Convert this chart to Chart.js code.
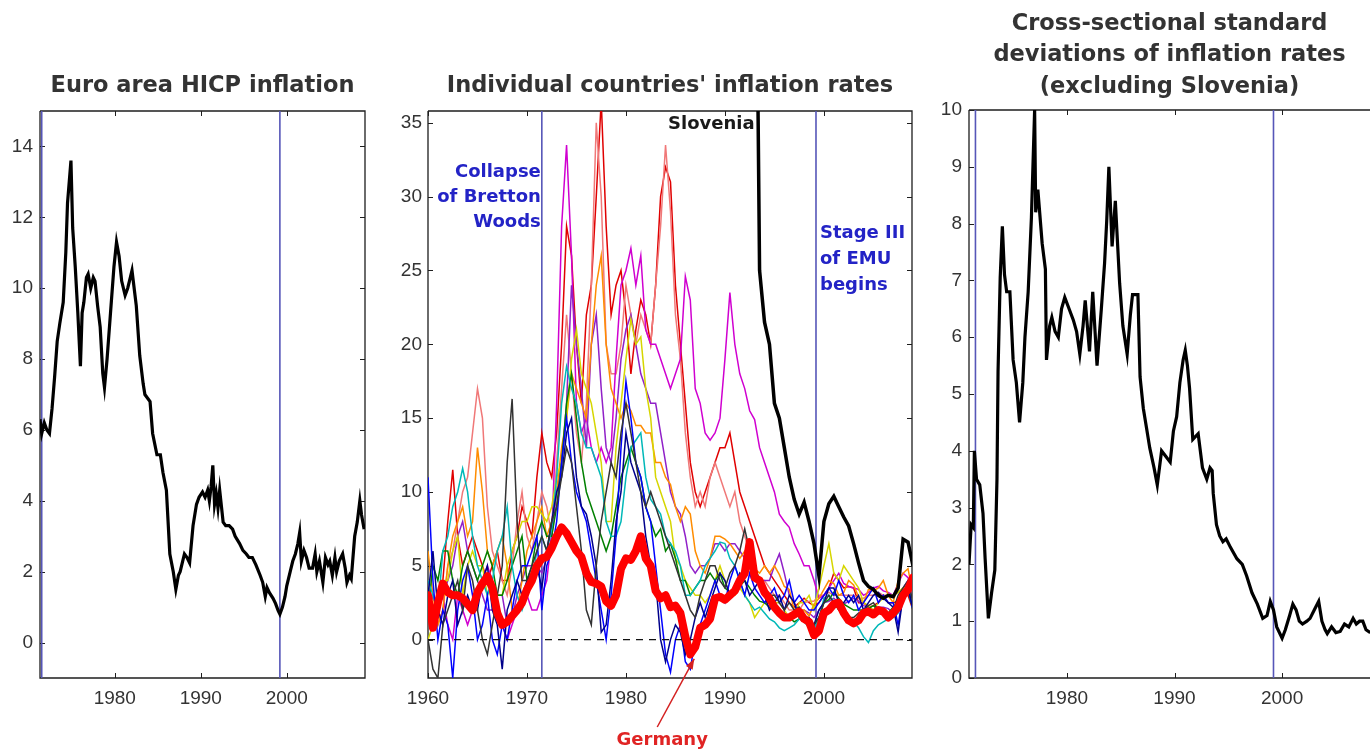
<!DOCTYPE html>
<html>
<head>
<meta charset="utf-8">
<script src="https://cdn.jsdelivr.net/npm/chart.js@4.4.1/dist/chart.umd.min.js"></script>
<style>
  html, body { margin: 0; padding: 0; background: #fff; overflow: hidden; width: 1370px; height: 754px; }
  canvas { position: absolute; top: 0; }
</style>
</head>
<body>
<canvas id="hicp" width="390" height="754" style="left:0px"></canvas>
<canvas id="countries" width="550" height="754" style="left:380px"></canvas>
<canvas id="dispersion" width="450" height="754" style="left:920px"></canvas>
<script>
// ---------- Event dates ----------
const BRETTON_WOODS = 1971.5;
const EMU_STAGE_THREE = 1999.2;

// ---------- Euro area HICP inflation (%) ----------
const HICP_YEARS = [
  1971.3, 1971.5, 1971.8, 1972.1, 1972.4, 1972.7, 1973.0, 1973.3, 1973.6, 1974.0,
  1974.3, 1974.5, 1974.7, 1974.9, 1975.1, 1975.4, 1975.7, 1976.0, 1976.2, 1976.4,
  1976.7, 1976.9, 1977.2, 1977.5, 1977.7, 1978.0, 1978.3, 1978.6, 1978.8, 1979.1,
  1979.5, 1979.9, 1980.2, 1980.5, 1980.8, 1981.2, 1981.5, 1981.8, 1982.0, 1982.3,
  1982.5, 1982.9, 1983.3, 1983.5, 1984.1, 1984.4, 1984.9, 1985.3, 1985.6, 1986.0,
  1986.2, 1986.4, 1986.8, 1987.1, 1987.4, 1987.6, 1988.1, 1988.4, 1988.7, 1989.1,
  1989.5, 1989.8, 1990.2, 1990.5, 1990.8, 1991.0, 1991.2, 1991.4, 1991.6, 1991.8,
  1992.0, 1992.2, 1992.6, 1992.9, 1993.3, 1993.7, 1994.0, 1994.5, 1994.9, 1995.3,
  1995.6, 1996.0, 1996.4, 1996.9, 1997.2, 1997.5, 1997.7, 1998.0, 1998.4, 1998.7,
  1999.0, 1999.2, 1999.5, 1999.8, 2000.0, 2000.4, 2000.7, 2001.0, 2001.3, 2001.5,
  2001.7, 2002.0, 2002.3, 2002.6, 2003.0, 2003.3, 2003.5, 2003.8, 2004.2, 2004.5,
  2004.8, 2005.0, 2005.3, 2005.6, 2005.8, 2006.1, 2006.5, 2006.8, 2007.0, 2007.3,
  2007.5, 2007.9, 2008.2, 2008.5, 2008.7, 2009.0
];
const HICP_VALUES = [
  6.3, 5.9, 6.2, 6.0, 5.9, 6.6, 7.5, 8.5, 9.0, 9.6,
  11.0, 12.4, 13.0, 13.6, 11.7, 10.6, 9.3, 7.8, 9.3, 9.6,
  10.3, 10.4, 10.0, 10.3, 10.2, 9.5, 8.9, 7.6, 7.2, 8.0,
  9.3, 10.6, 11.3, 10.9, 10.2, 9.8, 10.0, 10.3, 10.5, 9.9,
  9.5, 8.1, 7.3, 7.0, 6.8, 5.9, 5.3, 5.3, 4.8, 4.3,
  3.4, 2.5, 2.0, 1.5, 1.9, 2.0, 2.5, 2.4, 2.25, 3.3,
  3.9, 4.1, 4.25, 4.1, 4.3, 4.0, 4.4, 5.0, 3.9, 4.2,
  3.8, 4.3, 3.4, 3.3, 3.3, 3.2, 3.0, 2.8, 2.6, 2.5,
  2.4, 2.4, 2.2, 1.9, 1.7, 1.3, 1.55, 1.4, 1.25, 1.1,
  0.9, 0.8, 1.0, 1.3, 1.6, 2.0, 2.3, 2.5, 2.8, 3.1,
  2.3, 2.6, 2.4, 2.1, 2.1, 2.5, 2.0, 2.3, 1.7, 2.4,
  2.2, 2.3, 1.9, 2.4, 2.0, 2.3, 2.5, 2.1, 1.7, 1.9,
  1.8, 3.0, 3.4, 4.0, 3.6, 3.2
];
const HICP_X_TICKS = [1980, 1990, 2000];
const HICP_Y_TICKS = [0, 2, 4, 6, 8, 10, 12, 14];

// ---------- Individual countries, half-yearly from 1960 (%) ----------
const COUNTRY_START = 1960;
const GERMANY = [
  3.0, 0.8, 2.5, 3.8, 3.2, 3.0, 3.0, 2.8, 2.4, 2.0, 3.2, 3.8, 4.3, 3.5, 1.8, 1.0, 1.2, 1.6, 2.0, 2.5,
  3.4, 4.0, 5.0, 5.5, 5.6, 6.2, 7.0, 7.6, 7.2, 6.6, 6.0, 5.6, 4.5, 3.9, 3.8, 3.6, 2.6, 2.3, 3.0, 4.8,
  5.5, 5.4, 6.0, 7.0, 5.5, 5.0, 3.3, 2.8, 3.0, 2.2, 2.3, 1.8, 0.2, -1.0, -0.5, 0.8, 1.0, 1.4, 2.8, 2.9,
  2.7, 3.0, 3.3, 4.0, 4.5, 6.6, 4.2, 4.0, 3.2, 2.8, 2.2, 1.8, 1.5, 1.5, 1.7, 1.9, 1.4, 1.2, 0.3, 0.6,
  1.8, 2.0, 2.4, 2.5, 1.8, 1.3, 1.1, 1.3, 1.8, 1.9, 1.7, 2.0, 1.9, 1.5, 1.8, 2.2, 3.0, 3.4,
  4.2
];
const SLOVENIA_START = 1993;
const SLOVENIA = [
  60, 25, 21.5, 20, 16, 15, 13, 11, 9.5, 8.5, 9.3, 8, 6.5, 4.3, 8, 9.2, 9.7, 9.0, 8.3, 7.7,
  6.5, 5.2, 4.0, 3.6, 3.4, 3.0, 2.8, 3.0, 2.9, 3.5, 6.8, 6.6, 5.0
];
const PORTUGAL = [
  2, 3, 2, 4, 8, 11.5, 7, 5, 6, 7, 6, 5, 4, 5, 6, 4, 4, 6, 7, 9,
  8, 7, 11, 14, 12, 11, 14, 20, 28, 26, 20, 16, 22, 24, 30, 36.5, 28, 22, 24, 25,
  22, 18, 21, 23, 22, 20, 24, 30, 32, 31, 24, 20, 16, 12, 10, 9, 10, 11, 12, 13,
  13, 14, 12, 10, 9, 8, 7, 6, 5, 4.5, 4, 3.5, 3, 2.5, 2.2, 2.5, 2.8, 2.5, 2.3, 2.5,
  3, 3.5, 4.5, 4, 3.5, 3.6, 3.5, 2.5, 2.5, 2.2, 2.3, 2.5, 3, 2.5, 2.5, 2.6, 3, 3,
  2
];
const SPAIN = [
  4, 2, 1, 2, 5, 6, 8, 10, 11, 14, 17, 15, 9, 6, 5, 4, 3, 5, 8, 10,
  7, 6, 8, 10, 9, 7, 12, 17, 22, 18, 14, 12, 16, 24, 35, 30, 20, 18, 18, 20,
  24, 22, 20, 22, 21, 20, 24, 28, 33.5, 29, 22, 19, 14, 11, 9, 10, 9, 11, 12, 11,
  10, 9, 10, 8, 7, 6, 5, 4, 4, 3.5, 3, 3, 2.5, 2, 2, 2, 2.5, 2.6, 2.6, 3,
  3, 3.2, 3, 3, 3, 3, 3, 2.8, 2.8, 3, 3, 3.2, 3, 3, 3, 3.2, 3.5, 3.6,
  3
];
const GREECE = [
  2, 1, 2, 3, 1, 0, 3, 2, 1, 2, 3, 4, 5, 4, 2, 1, 0, 1, 2, 3,
  3, 2, 2, 3, 4, 7, 16, 28, 33.5, 26, 16, 14, 15, 13, 12, 13, 12, 13, 19, 24,
  25, 26.5, 24, 26, 21, 20, 20, 19, 18, 17, 18, 19, 24.6, 23, 17, 16, 14, 13.5, 14, 15,
  19, 23.5, 20, 18, 17, 15.5, 14.9, 13, 12, 11, 10, 8.5, 8, 7.6, 6.5, 5.8, 5, 5, 4, 2.8,
  3, 3.5, 4, 4.5, 3.8, 3.6, 3.5, 3.4, 3, 3.2, 3.5, 3.6, 3.3, 3.2, 3, 3.8, 4.5, 4.2,
  3
];
const ITALY = [
  2, 3, 2, 3, 4, 5, 7, 8, 6, 5, 4, 3, 2, 2, 3, 3, 1, 1.5, 3, 4,
  5, 5, 5, 4.5, 5.5, 7, 10, 12, 16, 24, 20, 17, 13, 20, 22, 17, 13, 12, 15, 19,
  21, 22, 20, 18, 17, 16, 16, 14, 12, 10, 9, 8.5, 7, 5, 4.5, 5, 5, 5.5, 6.5, 6.5,
  6, 6.5, 6.5, 6, 5.5, 5, 4.5, 4, 4, 4, 5, 5.8, 4.5, 3, 2.5, 1.8, 2, 1.8, 1.5, 2,
  2.5, 2.6, 2.8, 2.5, 2.4, 2.6, 2.8, 2.6, 2.3, 2.2, 2, 2.2, 2.2, 2.1, 1.8, 2.6, 3.5, 4,
  3
];
const CYPRUS = [
  6, 3, 1, 2, 5, 7, 8, 9, 7, 8, 13, 10, 6, 5, 6, 7, 5, 2, 2, 4,
  6, 7, 8, 9, 7, 8, 10, 13, 15, 18, 17, 16, 15, 20, 24, 26, 20, 17, 16, 15,
  16, 15.5, 14.5, 14.5, 14, 14, 12, 12, 11, 10.5, 9, 8, 9, 8.5, 6, 5, 4.5, 5.5, 7, 7,
  6.8, 6.5, 6, 5.5, 6, 5.5, 4.8, 4.5, 5, 4.5, 5, 4.4, 3.6, 3.4, 2, 2, 2, 1.6, 2.4, 2.8,
  3.4, 4, 3.8, 3, 3.2, 4, 3.7, 2.9, 2.5, 3.4, 3.3, 3.5, 4, 3, 2.5, 4, 4.5, 4.8,
  3
];
const IRELAND = [
  0, 1, 3, 4, 4, 6, 7, 3, 5, 6, 5, 5, 3, 4, 3, 3, 5, 6, 7, 8,
  8, 9, 9, 8.5, 8, 9, 11, 12, 15, 19, 21, 18, 17, 16, 14, 12, 8, 8, 13, 16,
  19, 21.7, 20, 20.5, 17, 15, 11, 10, 9, 8, 5.5, 5, 4, 3.5, 3, 3, 2.5, 3, 4, 5,
  4, 3, 3, 3.5, 3, 2.5, 1.5, 2, 2.5, 2.5, 2.5, 2.5, 2, 1.5, 1.5, 2.5, 2.5, 3, 2, 3.5,
  5, 6.5, 4.5, 4, 5, 4.5, 4, 3.5, 2.5, 2.3, 2, 2.5, 2.8, 3, 3, 3.2, 3.5, 3.6,
  2
];
const NETHERLANDS = [
  2, 5, 4, 6, 6, 4, 3, 5, 6, 5, 4, 5, 6, 5, 3, 3, 4, 5, 6, 7,
  4, 5, 7, 8, 7, 7, 9, 12, 16, 18, 15, 12, 10, 9, 8, 7, 6, 7, 9, 11,
  12, 13, 12, 11, 9, 8, 7, 7.5, 6, 6.5, 5.5, 4, 4, 3, 3.5, 4, 4, 4.5, 4, 4.5,
  3.5, 3.2, 3.5, 3.6, 4, 3.5, 3, 2.6, 2.5, 2.2, 2.2, 2, 1.8, 1.5, 1.2, 1.4, 1.5, 1.3, 1, 1.5,
  2.5, 2.7, 3.2, 2.8, 2.4, 2.2, 2, 2, 2, 2.1, 2.3, 2, 2, 1.8, 2.2, 2.4, 3, 3.4,
  2
];
const FINLAND = [
  4, 3, 2, 6, 7, 9, 10, 11.6, 10, 7, 5, 4, 3, 4, 6, 7, 9, 5, 3, 2,
  3, 4, 6, 7, 6, 7.5, 11, 16, 18.5, 17, 16, 14, 13, 13, 12, 11, 8, 7, 7, 8,
  11, 13, 13.5, 14, 11, 9.5, 9, 8.5, 7, 6.5, 6, 5, 3, 3, 3.5, 4, 5, 5.5, 6, 6.6,
  6.5, 5.5, 5, 4, 3, 2.5, 2, 2.2, 1.8, 1.4, 1.2, 0.8, 0.6, 0.8, 1, 1.4, 1.2, 0.8, 0.8, 1.4,
  2.8, 3, 2.6, 2, 2, 1.6, 1.2, 0.8, 0.2, -0.2, 0.6, 1, 1.2, 1.4, 1.5, 1.8, 3, 3.8,
  2
];
const BELGIUM = [
  11, 4, 0, 2, 1, -2.6, 2, 4, 5, 3, 0, 1, 3, 0, -1, 1, 0, 2, 4, 5,
  5, 6, 7, 2, 5, 6, 8, 12, 15, 12, 10, 9, 8, 6, 4, 2, 0, 3, 7, 13,
  17.5, 15, 12, 11, 9, 8, 5, 2, -1, -2.2, 0, 1, -1.5, -2, 0, 1, 2, 3, 4, 3,
  2.5, 4, 5, 4, 3, 4.5, 3.5, 3, 2.5, 3, 3.5, 2.5, 3, 4, 2.5, 3, 2.5, 2, 2, 2.5,
  3, 3.5, 3, 4, 3, 2.5, 3, 2, 2.5, 3, 3.5, 2.5, 3, 2.5, 2.5, 1, 3, 3.5,
  2
];
const LUXEMBOURG = [
  3, 6, 2, 1, 3, 4, 1, 2, 3, 2, 2, 4, 5, 2, 1, -2, 2, 3, 4, 3,
  4, 4.5, 5, 3.5, 6, 8, 10, 11, 14, 15, 11, 9, 8.5, 7, 5, 0.5, 1, 4, 8, 10,
  14, 12, 11, 10, 7, 5, 4, 0, -1.5, 0, 1, 0.5, -1, 0, 1.5, 2.5, 1.5, 2.5, 3.5, 4.5,
  4, 3, 3.5, 4.5, 4, 3, 3.5, 4, 3, 2, 2.5, 3, 2, 3, 2.5, 1.5, 1.5, 1.5, 1, 2,
  2.5, 3.5, 3.5, 2.5, 2.5, 3, 2.5, 3, 2, 2.5, 3, 3.2, 2.8, 2.5, 2.2, 0.5, 3, 3.6,
  2
];
const AUSTRIA = [
  0, -2, -2.6, 1, 2, 3, 4, 2, 5, 4, 2, 0, -1, 1, 3, 5, 12, 16.3, 8, 4,
  4, 5, 6, 7, 6, 8, 9, 11, 13, 12, 9, 6, 2, 1, 5, 8, 10, 12, 11, 14,
  16, 14, 12, 10, 9, 10, 9, 8, 7, 6, 5, 4, 3, 2, 1.5, 3, 4, 5, 5, 4,
  3.5, 4.5, 5, 6, 7.5, 6, 5, 4, 3.5, 3, 3, 2.5, 2, 2.5, 2, 2.2, 1.5, 1.2, 1, 1.5,
  2.5, 3, 2.5, 2, 2, 1.5, 1.5, 1.8, 2, 2.3, 2.5, 2, 1.8, 1.5, 2, 3, 3.5, 4,
  2.5
];
const COUNTRY_X_TICKS = [1960, 1970, 1980, 1990, 2000];
const COUNTRY_Y_TICKS = [0, 5, 10, 15, 20, 25, 30, 35];

// ---------- Cross-sectional standard deviation (excluding Slovenia) ----------
const DISPERSION_YEARS = [
  1970.9, 1971.1, 1971.3, 1971.4, 1971.6, 1971.9, 1972.2, 1972.4, 1972.7, 1973.0,
  1973.3, 1973.5, 1973.6, 1973.8, 1974.0, 1974.2, 1974.4, 1974.7, 1975.0, 1975.3,
  1975.6, 1975.9, 1976.1, 1976.4, 1976.7, 1977.0, 1977.1, 1977.3, 1977.7, 1978.0,
  1978.1, 1978.4, 1978.6, 1978.9, 1979.2, 1979.5, 1979.8, 1980.2, 1980.6, 1980.9,
  1981.2, 1981.5, 1981.7, 1982.1, 1982.4, 1982.8, 1983.2, 1983.5, 1983.7, 1983.9,
  1984.2, 1984.5, 1984.9, 1985.2, 1985.6, 1985.9, 1986.1, 1986.6, 1986.8, 1987.1,
  1987.4, 1987.7, 1988.1, 1988.4, 1988.8, 1989.2, 1989.6, 1989.9, 1990.2, 1990.5,
  1990.8, 1991.0, 1991.2, 1991.4, 1991.7, 1992.2, 1992.6, 1993.0, 1993.3, 1993.5,
  1993.6, 1993.9, 1994.2, 1994.5, 1994.8, 1995.2, 1995.8, 1996.3, 1996.7, 1997.2,
  1997.7, 1998.2, 1998.6, 1998.9, 1999.2, 1999.5, 2000.0, 2000.3, 2000.7, 2001.0,
  2001.3, 2001.6, 2001.9, 2002.3, 2002.6, 2003.0, 2003.4, 2003.7, 2004.0, 2004.2,
  2004.6, 2005.0, 2005.4, 2005.8, 2006.2, 2006.6, 2006.9, 2007.2, 2007.5, 2007.8,
  2008.2
];
const DISPERSION_VALUES = [
  2.0, 2.7, 2.65, 4.0, 3.5, 3.4, 2.9, 2.1, 1.05, 1.5,
  1.9, 3.5, 5.4, 7.05, 7.95, 7.1, 6.8, 6.8, 5.6, 5.2,
  4.5, 5.2, 6.0, 6.8, 8.1, 10.0, 8.2, 8.6, 7.65, 7.2,
  5.6, 6.2, 6.35, 6.1, 6.0, 6.5, 6.7, 6.5, 6.3, 6.1,
  5.7, 6.2, 6.65, 5.75, 6.8, 5.5, 6.5, 7.3, 8.05, 9.0,
  7.6, 8.4, 6.95, 6.2, 5.7, 6.4, 6.75, 6.75, 5.3, 4.75,
  4.4, 4.05, 3.7, 3.4, 4.0, 3.9, 3.8, 4.35, 4.6, 5.2,
  5.6, 5.77, 5.5, 5.1, 4.2, 4.3, 3.7, 3.5, 3.7, 3.65,
  3.25, 2.7, 2.5, 2.4, 2.45, 2.3, 2.1, 2.0, 1.8, 1.5,
  1.3, 1.05, 1.1, 1.35, 1.2, 0.9, 0.7, 0.85, 1.1, 1.3,
  1.2, 1.0, 0.95, 1.0, 1.05, 1.2, 1.35, 1.0, 0.85, 0.78,
  0.9, 0.8, 0.82, 0.95, 0.9, 1.05, 0.95, 1.0, 1.0, 0.85,
  0.8
];
const DISPERSION_X_TICKS = [1980, 1990, 2000];
const DISPERSION_Y_TICKS = [0, 1, 2, 3, 4, 5, 6, 7, 8, 9, 10];

// ---------- Annotation text ----------
const NOTE_BRETTON = ['Collapse', 'of Bretton', 'Woods'];
const NOTE_EMU = ['Stage III', 'of EMU', 'begins'];
const NOTE_SLOVENIA = 'Slovenia';
const NOTE_GERMANY = 'Germany';
const GERMANY_TROUGH = { year: 1986.9, value: -1.3 };

// ---------- Styling ----------
const TITLE_FAMILY = "'DejaVu Sans', Verdana, sans-serif";
const TITLE_SIZE = 22.5;
const TICK_FONT = { family: "'Liberation Sans', Arial, sans-serif", size: 19 };
const TEXT_GREY = '#333333';
const EVENT_BLUE = '#5656b8';
const NOTE_BLUE = '#2323c6';

function pairUp(xs, ys) { return xs.map((x, i) => ({ x, y: ys[i] })); }
function halfYearly(start, values) { return values.map((v, i) => ({ x: start + i * 0.5, y: v })); }

function lineSet(data, color, width, extra) {
  return Object.assign({
    data, borderColor: color, borderWidth: width, pointRadius: 0,
    tension: 0, fill: false, clip: 0, spanGaps: false
  }, extra || {});
}
function eventLine(year, yMin, yMax) {
  return lineSet([{ x: year, y: yMin }, { x: year, y: yMax }], EVENT_BLUE, 1.6);
}

// MATLAB-style frame with inward tick marks
const axisBox = {
  id: 'axisBox',
  beforeDatasetsDraw(chart, args, opts) {
    const { ctx, chartArea: a, scales: { x, y } } = chart;
    const L = 5;
    ctx.save();
    ctx.strokeStyle = '#1e1e1e';
    ctx.lineWidth = 1.3;
    ctx.beginPath();
    ctx.moveTo(a.left, a.top); ctx.lineTo(a.left, a.bottom); ctx.lineTo(a.right, a.bottom);
    if (opts.right !== false) { ctx.lineTo(a.right, a.top); ctx.lineTo(a.left, a.top); }
    else { ctx.moveTo(a.right, a.top); ctx.lineTo(a.left, a.top); }
    ctx.stroke();
    ctx.lineWidth = 1;
    ctx.beginPath();
    x.ticks.forEach(t => {
      const px = Math.round(x.getPixelForValue(t.value)) + 0.5;
      ctx.moveTo(px, a.bottom); ctx.lineTo(px, a.bottom - L);
      ctx.moveTo(px, a.top); ctx.lineTo(px, a.top + L);
    });
    y.ticks.forEach(t => {
      const py = Math.round(y.getPixelForValue(t.value)) + 0.5;
      ctx.moveTo(a.left, py); ctx.lineTo(a.left + L, py);
      if (opts.right !== false) { ctx.moveTo(a.right, py); ctx.lineTo(a.right - L, py); }
    });
    ctx.stroke();
    ctx.restore();
  }
};

// Text notes and the arrow pointing at Germany's trough
const countryNotes = {
  id: 'countryNotes',
  afterDatasetsDraw(chart) {
    const { ctx, chartArea: a, scales: { x, y } } = chart;
    ctx.save();
    ctx.font = "bold 18px " + TITLE_FAMILY;
    ctx.textBaseline = 'middle';

    ctx.fillStyle = NOTE_BLUE;
    ctx.textAlign = 'right';
    const bw = x.getPixelForValue(BRETTON_WOODS);
    NOTE_BRETTON.forEach((s, i) => ctx.fillText(s, bw - 1, a.top + 61 + i * 25));

    ctx.textAlign = 'left';
    const emu = x.getPixelForValue(EMU_STAGE_THREE);
    NOTE_EMU.forEach((s, i) => ctx.fillText(s, emu + 4, a.top + 122 + i * 26));

    ctx.fillStyle = '#1a1a1a';
    ctx.textAlign = 'right';
    ctx.fillText(NOTE_SLOVENIA, x.getPixelForValue(SLOVENIA_START + 0.3) - 3, a.top + 13);

    const tipX = x.getPixelForValue(GERMANY_TROUGH.year);
    const tipY = y.getPixelForValue(GERMANY_TROUGH.value);
    const tailX = tipX - 37, tailY = a.bottom + 49;
    ctx.strokeStyle = '#d42020';
    ctx.fillStyle = '#d42020';
    ctx.lineWidth = 1.5;
    ctx.beginPath(); ctx.moveTo(tailX, tailY); ctx.lineTo(tipX, tipY); ctx.stroke();
    const ang = Math.atan2(tipY - tailY, tipX - tailX);
    const h = 11, w = 0.35;
    ctx.beginPath();
    ctx.moveTo(tipX, tipY);
    ctx.lineTo(tipX - h * Math.cos(ang - w), tipY - h * Math.sin(ang - w));
    ctx.lineTo(tipX - h * Math.cos(ang + w), tipY - h * Math.sin(ang + w));
    ctx.closePath(); ctx.fill();

    ctx.fillStyle = '#e02424';
    ctx.textAlign = 'center';
    ctx.fillText(NOTE_GERMANY, tipX - 32, a.bottom + 62);
    ctx.restore();
  }
};

function panelOptions(p) {
  return {
    responsive: false,
    animation: false,
    devicePixelRatio: 1,
    events: [],
    layout: { padding: { left: 0, right: p.padRight, top: 0, bottom: 0 } },
    plugins: {
      legend: { display: false },
      tooltip: { enabled: false },
      title: {
        display: true, text: p.title, fullSize: false, color: TEXT_GREY,
        font: { family: TITLE_FAMILY, size: TITLE_SIZE, weight: 'bold', lineHeight: p.titleLineHeight },
        padding: p.titlePad
      },
      axisBox: { right: p.boxRight }
    },
    scales: {
      x: {
        type: 'linear', min: p.xMin, max: p.xMax,
        grid: { display: false, drawTicks: false },
        border: { display: false },
        ticks: { font: TICK_FONT, color: TEXT_GREY, padding: 9, autoSkip: false, maxRotation: 0,
                 callback: v => String(v) },
        afterBuildTicks: s => { s.ticks = p.xTicks.map(v => ({ value: v })); },
        afterFit: s => { s.height = 76; }
      },
      y: {
        type: 'linear', min: p.yMin, max: p.yMax,
        grid: { display: false, drawTicks: false },
        border: { display: false },
        ticks: { font: TICK_FONT, color: TEXT_GREY, padding: p.yPad, autoSkip: false,
                 callback: v => String(v) },
        afterBuildTicks: s => { s.ticks = p.yTicks.map(v => ({ value: v })); },
        afterFit: s => { s.width = p.yWidth; }
      }
    }
  };
}

// ---------- Panel 1: euro area HICP ----------
const HICP_RANGE = { xMin: 1971.3, xMax: 2009.1, yMin: -1, yMax: 15 };
new Chart(document.getElementById('hicp'), {
  type: 'line',
  data: {
    datasets: [
      lineSet(pairUp(HICP_YEARS, HICP_VALUES), '#000000', 3.2),
      eventLine(EMU_STAGE_THREE, HICP_RANGE.yMin, HICP_RANGE.yMax),
      eventLine(BRETTON_WOODS, HICP_RANGE.yMin, HICP_RANGE.yMax)
    ]
  },
  options: panelOptions(Object.assign({}, HICP_RANGE, {
    title: 'Euro area HICP inflation', titleLineHeight: 1.2, titlePad: { top: 73, bottom: 11 },
    xTicks: HICP_X_TICKS, yTicks: HICP_Y_TICKS, yWidth: 40, yPad: 7, padRight: 25, boxRight: true
  })),
  plugins: [axisBox]
});

// ---------- Panel 2: individual countries ----------
const COUNTRY_RANGE = { xMin: 1960, xMax: 2008.9, yMin: -2.6, yMax: 35.8 };
const THIN = 1.5;
new Chart(document.getElementById('countries'), {
  type: 'line',
  data: {
    datasets: [
      lineSet(halfYearly(COUNTRY_START, GERMANY), '#ff0000', 8, { label: 'Germany', borderJoinStyle: 'round', borderCapStyle: 'round' }),
      lineSet(halfYearly(SLOVENIA_START, SLOVENIA), '#000000', 3.5, { label: 'Slovenia' }),
      lineSet([{ x: COUNTRY_RANGE.xMin, y: 0 }, { x: COUNTRY_RANGE.xMax, y: 0 }], '#111111', 1.4, { borderDash: [7, 6] }),
      lineSet(halfYearly(COUNTRY_START, AUSTRIA), '#333333', THIN, { label: 'Austria' }),
      lineSet(halfYearly(COUNTRY_START, LUXEMBOURG), '#00008b', THIN, { label: 'Luxembourg' }),
      lineSet(halfYearly(COUNTRY_START, BELGIUM), '#0000ff', THIN, { label: 'Belgium' }),
      lineSet(halfYearly(COUNTRY_START, FINLAND), '#00b8b8', THIN, { label: 'Finland' }),
      lineSet(halfYearly(COUNTRY_START, NETHERLANDS), '#008000', THIN, { label: 'Netherlands' }),
      lineSet(halfYearly(COUNTRY_START, IRELAND), '#d6d600', THIN, { label: 'Ireland' }),
      lineSet(halfYearly(COUNTRY_START, CYPRUS), '#ff8c00', THIN, { label: 'Cyprus' }),
      lineSet(halfYearly(COUNTRY_START, ITALY), '#9020c8', THIN, { label: 'Italy' }),
      lineSet(halfYearly(COUNTRY_START, GREECE), '#d000d0', THIN, { label: 'Greece' }),
      lineSet(halfYearly(COUNTRY_START, SPAIN), '#f07878', THIN, { label: 'Spain' }),
      lineSet(halfYearly(COUNTRY_START, PORTUGAL), '#e00000', THIN, { label: 'Portugal' }),
      eventLine(EMU_STAGE_THREE, COUNTRY_RANGE.yMin, COUNTRY_RANGE.yMax),
      eventLine(BRETTON_WOODS, COUNTRY_RANGE.yMin, COUNTRY_RANGE.yMax)
    ]
  },
  options: panelOptions(Object.assign({}, COUNTRY_RANGE, {
    title: "Individual countries' inflation rates", titleLineHeight: 1.2, titlePad: { top: 73, bottom: 11 },
    xTicks: COUNTRY_X_TICKS, yTicks: COUNTRY_Y_TICKS, yWidth: 48, yPad: 6, padRight: 18, boxRight: true
  })),
  plugins: [axisBox, countryNotes]
});

// ---------- Panel 3: cross-sectional dispersion ----------
const DISPERSION_RANGE = { xMin: 1970.9, xMax: 2008.17, yMin: 0, yMax: 10 };
new Chart(document.getElementById('dispersion'), {
  type: 'line',
  data: {
    datasets: [
      lineSet(pairUp(DISPERSION_YEARS, DISPERSION_VALUES), '#000000', 3.2),
      eventLine(EMU_STAGE_THREE, DISPERSION_RANGE.yMin, DISPERSION_RANGE.yMax),
      eventLine(BRETTON_WOODS, DISPERSION_RANGE.yMin, DISPERSION_RANGE.yMax)
    ]
  },
  options: panelOptions(Object.assign({}, DISPERSION_RANGE, {
    title: ['Cross-sectional standard', 'deviations of inflation rates', '(excluding Slovenia)'],
    titleLineHeight: 1.4, titlePad: { top: 8, bottom: 7.5 },
    xTicks: DISPERSION_X_TICKS, yTicks: DISPERSION_Y_TICKS, yWidth: 49, yPad: 7, padRight: 0, boxRight: false
  })),
  plugins: [axisBox]
});
</script>
</body>
</html>
